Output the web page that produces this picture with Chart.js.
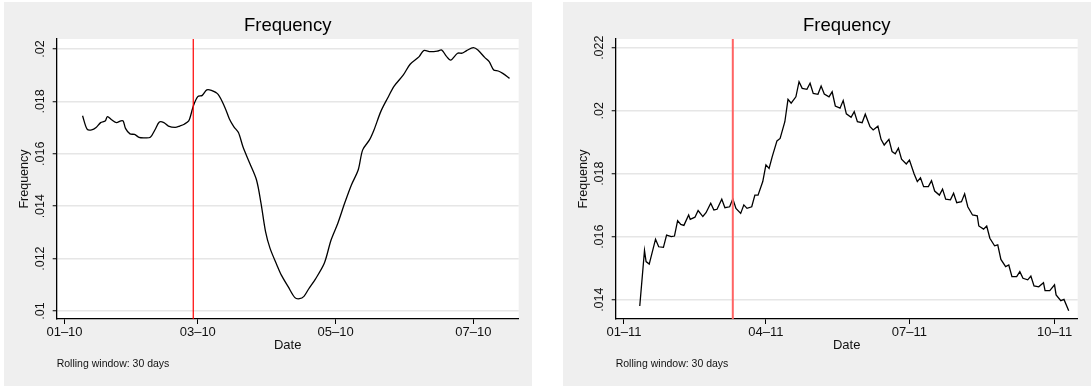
<!DOCTYPE html>
<html>
<head>
<meta charset="utf-8">
<script src="https://cdn.jsdelivr.net/npm/chart.js@4.4.1/dist/chart.umd.min.js"></script>
<style>
html,body{margin:0;padding:0;background:#fff;width:1091px;height:386px;overflow:hidden;position:relative}
.panel{position:absolute;top:2px;height:384px;width:528px;background:#efefef}
#p1{left:4px}
#p2{left:563px}
canvas{display:block}
</style>
</head>
<body>
<div class="panel" id="p1"><canvas id="c1" width="528" height="384"></canvas></div>
<div class="panel" id="p2"><canvas id="c2" width="528" height="384"></canvas></div>
<script>
// ---------- texts ----------
const chartTitle = 'Frequency';
const xTitle = 'Date';
const yTitle = 'Frequency';
const footnote = 'Rolling window: 30 days';

// ---------- left panel data ----------
const leftDates = [
  '2021-01-18','2021-01-20','2021-01-22','2021-01-24','2021-01-26','2021-01-28','2021-01-29','2021-01-31',
  '2021-02-02','2021-02-04','2021-02-05','2021-02-06','2021-02-08','2021-02-10','2021-02-12','2021-02-14',
  '2021-02-17','2021-02-19','2021-02-21','2021-02-23','2021-02-25','2021-02-28','2021-03-02','2021-03-04',
  '2021-03-06','2021-03-07','2021-03-08','2021-03-10','2021-03-12','2021-03-14','2021-03-16','2021-03-19',
  '2021-03-22','2021-03-24','2021-03-26','2021-03-28','2021-03-30','2021-04-02','2021-04-05','2021-04-07',
  '2021-04-09','2021-04-11','2021-04-14','2021-04-16','2021-04-19','2021-04-22','2021-04-24','2021-04-26',
  '2021-04-28','2021-05-01','2021-05-05','2021-05-08','2021-05-11','2021-05-14','2021-05-17','2021-05-20',
  '2021-05-22','2021-05-25','2021-05-27','2021-05-30','2021-06-02','2021-06-05','2021-06-09','2021-06-12',
  '2021-06-16','2021-06-18','2021-06-21','2021-06-24','2021-06-26','2021-06-28','2021-06-30','2021-07-03',
  '2021-07-05','2021-07-07','2021-07-10','2021-07-12','2021-07-15','2021-07-17','2021-07-19','2021-07-21',
  '2021-07-23','2021-07-26'
];
const leftFreq = [
  0.01745,0.01694,0.01691,0.01700,0.01719,0.01725,0.01742,0.01729,
  0.01719,0.01726,0.01725,0.01697,0.01676,0.01674,0.01663,0.01661,
  0.01663,0.01691,0.01721,0.01719,0.01706,0.01701,0.01706,0.01713,
  0.01726,0.01751,0.01782,0.01818,0.01823,0.01844,0.01842,0.01827,
  0.01777,0.01733,0.01703,0.01681,0.01627,0.01564,0.01500,0.01411,
  0.01303,0.01239,0.01176,0.01137,0.01093,0.01051,0.01047,0.01056,
  0.01083,0.01121,0.01182,0.01271,0.01335,0.01411,0.01481,0.01538,
  0.01615,0.01653,0.01691,0.01761,0.01812,0.01859,0.01901,0.01942,
  0.01971,0.01994,0.01990,0.01992,0.01996,0.01973,0.01958,0.01984,
  0.01984,0.01994,0.02005,0.01996,0.01968,0.01952,0.01920,0.01916,
  0.01907,0.01888
];
const leftTickDates = ['2021-01-10','2021-03-10','2021-05-10','2021-07-10'];
const leftTickLabels = ['01\u201310','03\u201310','05\u201310','07\u201310'];
const leftYTicks = [0.01,0.012,0.014,0.016,0.018,0.02];
const leftYLabels = ['.01','.012','.014','.016','.018','.02'];
const leftCutoff = '2021-03-08';

// ---------- right panel data ----------
const rightDates = [
  '2021-01-21','2021-01-24','2021-01-25','2021-01-27','2021-01-31','2021-02-02','2021-02-05','2021-02-07',
  '2021-02-10','2021-02-12','2021-02-14','2021-02-16','2021-02-18','2021-02-21','2021-02-22','2021-02-25',
  '2021-02-27','2021-03-02','2021-03-04','2021-03-07','2021-03-09','2021-03-11','2021-03-14','2021-03-16',
  '2021-03-19','2021-03-21','2021-03-23','2021-03-26','2021-03-28','2021-03-30','2021-04-02','2021-04-04',
  '2021-04-06','2021-04-09','2021-04-11','2021-04-13','2021-04-15','2021-04-18','2021-04-20','2021-04-23',
  '2021-04-25','2021-04-27','2021-04-30','2021-05-02','2021-05-04','2021-05-07','2021-05-09','2021-05-11',
  '2021-05-14','2021-05-16','2021-05-18','2021-05-21','2021-05-23','2021-05-25','2021-05-28','2021-05-30',
  '2021-06-01','2021-06-04','2021-06-06','2021-06-08','2021-06-11','2021-06-13','2021-06-16','2021-06-18',
  '2021-06-21','2021-06-23','2021-06-25','2021-06-28','2021-06-30','2021-07-02','2021-07-04','2021-07-06',
  '2021-07-09','2021-07-11','2021-07-14','2021-07-16','2021-07-18','2021-07-20','2021-07-23','2021-07-25',
  '2021-07-27','2021-07-30','2021-08-01','2021-08-03','2021-08-06','2021-08-08','2021-08-10','2021-08-13',
  '2021-08-15','2021-08-17','2021-08-20','2021-08-23','2021-08-24','2021-08-27','2021-08-29','2021-08-31',
  '2021-09-03','2021-09-05','2021-09-07','2021-09-10','2021-09-12','2021-09-14','2021-09-17','2021-09-19',
  '2021-09-21','2021-09-24','2021-09-26','2021-09-28','2021-10-01','2021-10-04','2021-10-05','2021-10-08',
  '2021-10-11','2021-10-12','2021-10-15','2021-10-17','2021-10-20'
];
const rightFreq = [
  0.01380,0.01556,0.01521,0.01513,0.01592,0.01568,0.01566,0.01605,
  0.01600,0.01602,0.01651,0.01639,0.01636,0.01669,0.01655,0.01662,
  0.01683,0.01664,0.01676,0.01706,0.01685,0.01687,0.01719,0.01692,
  0.01695,0.01720,0.01690,0.01674,0.01701,0.01690,0.01695,0.01732,
  0.01732,0.01775,0.01828,0.01817,0.01854,0.01904,0.01912,0.01965,
  0.02036,0.02024,0.02044,0.02092,0.02071,0.02068,0.02087,0.02055,
  0.02052,0.02078,0.02053,0.02044,0.02060,0.02015,0.02008,0.02032,
  0.01990,0.01979,0.01997,0.01965,0.01962,0.01989,0.01949,0.01939,
  0.01951,0.01909,0.01891,0.01909,0.01870,0.01863,0.01881,0.01846,
  0.01831,0.01843,0.01799,0.01775,0.01787,0.01759,0.01759,0.01778,
  0.01745,0.01732,0.01751,0.01719,0.01717,0.01738,0.01708,0.01711,
  0.01736,0.01695,0.01669,0.01666,0.01634,0.01624,0.01634,0.01595,
  0.01571,0.01574,0.01528,0.01505,0.01510,0.01473,0.01473,0.01489,
  0.01468,0.01463,0.01475,0.01444,0.01441,0.01454,0.01429,0.01429,
  0.01447,0.01415,0.01397,0.01401,0.01365
];
const rightTickDates = ['2021-01-11','2021-04-11','2021-07-11','2021-10-11'];
const rightTickLabels = ['01\u201311','04\u201311','07\u201311','10\u201311'];
const rightYTicks = [0.014,0.016,0.018,0.02,0.022];
const rightYLabels = ['.014','.016','.018','.02','.022'];
const rightCutoff = '2021-03-21';

// ---------- helpers ----------
const FONT = '"Liberation Sans", Arial, Helvetica, sans-serif';
const DAY = 86400000;
const toDay = s => Date.parse(s + 'T00:00:00Z') / DAY;

const bgPlugin = {
  id: 'panelBg',
  beforeDraw(chart) {
    const {ctx, chartArea: a} = chart;
    ctx.save();
    ctx.fillStyle = '#efefef';
    ctx.fillRect(0, 0, chart.width, chart.height);
    ctx.fillStyle = '#ffffff';
    ctx.fillRect(a.left, a.top, a.right - a.left, a.bottom - a.top);
    ctx.restore();
  }
};

function makeChart(id, dates, values, tickDates, tickLabels, yTicks, yLabels, cutoff,
                   xBefore, xAfter, yMin, yMax, cutColor, cutWidth, tension) {
  const pts = dates.map((d, i) => ({x: toDay(d), y: values[i]}));
  const tickDays = tickDates.map(toDay);
  const cut = toDay(cutoff);
  return new Chart(document.getElementById(id), {
    type: 'line',
    data: {
      datasets: [
        {data: [{x: cut, y: yMin}, {x: cut, y: yMax}], borderColor: cutColor, borderWidth: cutWidth,
         pointRadius: 0, tension: 0},
        {data: pts, borderColor: '#000000', borderWidth: 1.3, pointRadius: 0, tension: tension,
         fill: false}
      ]
    },
    options: {
      responsive: false,
      animation: false,
      devicePixelRatio: 1,
      events: [],
      layout: {padding: {left: 0, right: 13.3, top: 0, bottom: 0}},
      plugins: {
        legend: {display: false},
        tooltip: {enabled: false},
        title: {display: true, text: chartTitle, fullSize: false, color: '#000',
                font: {family: FONT, size: 18.5, weight: 'normal'}, padding: {top: 13, bottom: 1.8}},
        subtitle: {display: true, text: footnote, position: 'bottom', align: 'start', fullSize: false,
                   color: '#111', font: {family: FONT, size: 10.5, weight: 'normal'},
                   padding: {top: 2.6, bottom: 15.8}}
      },
      scales: {
        x: {
          type: 'linear',
          min: tickDays[0] - xBefore,
          max: tickDays[0] + xAfter,
          afterBuildTicks: s => { s.ticks = tickDays.map(v => ({value: v})); },
          afterFit: s => { s.height = 36; },
          ticks: {callback: (v, i) => tickLabels[i], autoSkip: false, maxRotation: 0, minRotation: 0,
                  padding: 1, color: '#111', font: {family: FONT, size: 13}},
          grid: {display: true, drawOnChartArea: false, drawTicks: true, tickLength: 5,
                 tickColor: '#000', tickWidth: 1},
          border: {display: true, color: '#000', width: 1.3},
          title: {display: true, text: xTitle, color: '#111', font: {family: FONT, size: 13},
                  padding: {top: 0, bottom: 1.7}}
        },
        y: {
          type: 'linear',
          min: yMin,
          max: yMax,
          afterBuildTicks: s => { s.ticks = yTicks.map(v => ({value: v})); },
          afterFit: s => { s.width = 52.7; },
          ticks: {callback: (v, i) => yLabels[i], autoSkip: false, minRotation: 90, maxRotation: 90,
                  crossAlign: 'center', padding: 0.45, color: '#111', font: {family: FONT, size: 12.5}},
          grid: {color: '#e6e6e6', lineWidth: 1.5, drawTicks: true, tickLength: 4,
                 tickColor: '#000', tickWidth: 1},
          border: {display: true, color: '#000', width: 1.3},
          title: {display: true, text: yTitle, color: '#111', font: {family: FONT, size: 12.5},
                  padding: {top: 12.6, bottom: 0}}
        }
      }
    },
    plugins: [bgPlugin]
  });
}

makeChart('c1', leftDates, leftFreq, leftTickDates, leftTickLabels, leftYTicks, leftYLabels, leftCutoff,
          3.45, 201.06, 0.009695, 0.020382, '#ff0000', 1.2, 0.3);
makeChart('c2', rightDates, rightFreq, rightTickDates, rightTickLabels, rightYTicks, rightYLabels, rightCutoff,
          5.26, 287.7, 0.013387, 0.022276, '#ff6464', 2, 0);
</script>
</body>
</html>
